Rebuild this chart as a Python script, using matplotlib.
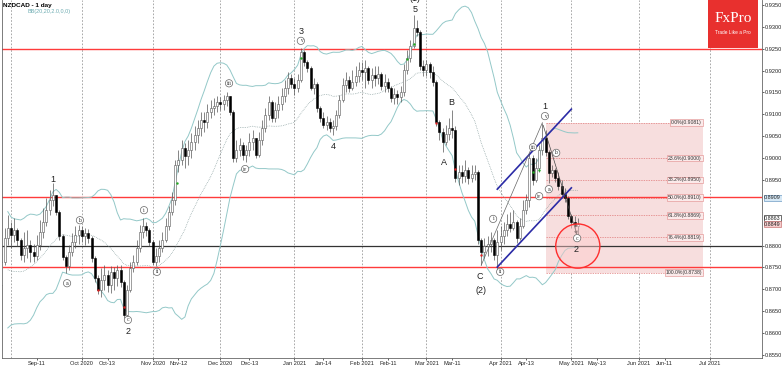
import matplotlib.pyplot as plt
import matplotlib.patches as mpatches
import numpy as np
import pandas as pd

plt.rcParams['font.family'] = ['Liberation Sans', 'DejaVu Sans']

# NZDCAD daily candles, Aug 27 2020 .. May 5 2021
first_day = '2020-08-27'
first_open = 0.8710
close = [
    0.8763, 0.8817, 0.8840, 0.8824, 0.8836, 0.8813, 0.8779, 0.8795, 0.8801, 0.8786,
    0.8776, 0.8801, 0.8831, 0.8854, 0.8881, 0.8904, 0.8916, 0.8877, 0.8822, 0.8774,
    0.8753, 0.8786, 0.8808, 0.8824, 0.8836, 0.8822, 0.8829, 0.8817, 0.8772, 0.8726,
    0.8698, 0.8721, 0.8733, 0.8710, 0.8740, 0.8726, 0.8744, 0.8717, 0.8641, 0.8698,
    0.8749, 0.8763, 0.8795, 0.8831, 0.8845, 0.8836, 0.8808, 0.8763, 0.8776, 0.8795,
    0.8813, 0.8845, 0.8877, 0.8904, 0.8984, 0.8996, 0.9023, 0.9005, 0.9019, 0.9037,
    0.9053, 0.9069, 0.9087, 0.9083, 0.9105, 0.9115, 0.9119, 0.9128, 0.9124, 0.9133,
    0.9142, 0.9105, 0.9000, 0.9019, 0.9030, 0.9007, 0.9019, 0.9037, 0.9046, 0.9007,
    0.9041, 0.9069, 0.9099, 0.9128, 0.9092, 0.9110, 0.9124, 0.9142, 0.9160, 0.9183,
    0.9169, 0.9160, 0.9179, 0.9243, 0.9220, 0.9206, 0.9160, 0.9169, 0.9115, 0.9092,
    0.9076, 0.9083, 0.9069, 0.9073, 0.9099, 0.9133, 0.9167, 0.9179, 0.9160, 0.9174,
    0.9188, 0.9201, 0.9197, 0.9206, 0.9179, 0.9190, 0.9183, 0.9192, 0.9165, 0.9174,
    0.9160, 0.9137, 0.9147, 0.9140, 0.9151, 0.9201, 0.9229, 0.9256, 0.9297, 0.9288,
    0.9210, 0.9201, 0.9215, 0.9197, 0.9174, 0.9083, 0.9060, 0.9037, 0.9055, 0.9069,
    0.9064, 0.8955, 0.8968, 0.8959, 0.8973, 0.8955, 0.8964, 0.8968, 0.8813, 0.8786,
    0.8799, 0.8804, 0.8813, 0.8779, 0.8808, 0.8822, 0.8836, 0.8849, 0.8840, 0.8854,
    0.8817, 0.8845, 0.8881, 0.8904, 0.9000, 0.8950, 0.8977, 0.9019, 0.9046, 0.9014,
    0.8966, 0.8973, 0.8955, 0.8936, 0.8918, 0.8909, 0.8868, 0.8854, 0.8845, 0.8849,
]
high = [
    0.8813, 0.8840, 0.8870, 0.8854, 0.8863, 0.8840, 0.8817, 0.8831, 0.8836, 0.8813,
    0.8804, 0.8824, 0.8858, 0.8886, 0.8909, 0.8927, 0.8943, 0.8916, 0.8881, 0.8827,
    0.8779, 0.8801, 0.8829, 0.8845, 0.8847, 0.8845, 0.8840, 0.8838, 0.8822, 0.8776,
    0.8733, 0.8749, 0.8756, 0.8744, 0.8753, 0.8751, 0.8756, 0.8756, 0.8721, 0.8710,
    0.8763, 0.8779, 0.8813, 0.8847, 0.8863, 0.8854, 0.8840, 0.8813, 0.8795, 0.8813,
    0.8831, 0.8863, 0.8891, 0.8923, 0.8996, 0.9019, 0.9041, 0.9035, 0.9041, 0.9057,
    0.9073, 0.9087, 0.9105, 0.9105, 0.9124, 0.9133, 0.9137, 0.9142, 0.9140, 0.9144,
    0.9151, 0.9142, 0.9110, 0.9041, 0.9046, 0.9037, 0.9030, 0.9057, 0.9064, 0.9046,
    0.9060, 0.9087, 0.9115, 0.9142, 0.9133, 0.9128, 0.9142, 0.9160, 0.9179, 0.9197,
    0.9192, 0.9183, 0.9192, 0.9252, 0.9247, 0.9224, 0.9210, 0.9183, 0.9174, 0.9119,
    0.9105, 0.9096, 0.9092, 0.9087, 0.9110, 0.9144, 0.9183, 0.9197, 0.9188, 0.9201,
    0.9210, 0.9220, 0.9220, 0.9224, 0.9210, 0.9206, 0.9210, 0.9210, 0.9197, 0.9192,
    0.9183, 0.9165, 0.9160, 0.9156, 0.9165, 0.9215, 0.9247, 0.9270, 0.9327, 0.9316,
    0.9293, 0.9224, 0.9224, 0.9220, 0.9210, 0.9179, 0.9087, 0.9069, 0.9076, 0.9092,
    0.9110, 0.9073, 0.8984, 0.8984, 0.8996, 0.8980, 0.8984, 0.8984, 0.8973, 0.8817,
    0.8817, 0.8822, 0.8831, 0.8817, 0.8836, 0.8845, 0.8854, 0.8872, 0.8877, 0.8881,
    0.8858, 0.8863, 0.8904, 0.8918, 0.9009, 0.9007, 0.9000, 0.9030, 0.9081, 0.9064,
    0.9019, 0.8984, 0.8977, 0.8968, 0.8950, 0.8932, 0.8913, 0.8872, 0.8868, 0.8863,
]
low = [
    0.8683, 0.8756, 0.8801, 0.8795, 0.8808, 0.8799, 0.8767, 0.8763, 0.8772, 0.8763,
    0.8763, 0.8767, 0.8790, 0.8817, 0.8845, 0.8870, 0.8891, 0.8870, 0.8813, 0.8767,
    0.8737, 0.8744, 0.8776, 0.8795, 0.8804, 0.8808, 0.8801, 0.8806, 0.8763, 0.8717,
    0.8689, 0.8683, 0.8698, 0.8694, 0.8692, 0.8698, 0.8708, 0.8705, 0.8635, 0.8625,
    0.8694, 0.8740, 0.8756, 0.8786, 0.8817, 0.8822, 0.8799, 0.8756, 0.8753, 0.8763,
    0.8786, 0.8808, 0.8836, 0.8870, 0.8893, 0.8968, 0.8984, 0.8977, 0.8984, 0.9000,
    0.9019, 0.9035, 0.9051, 0.9060, 0.9069, 0.9092, 0.9099, 0.9105, 0.9110, 0.9110,
    0.9119, 0.9099, 0.8991, 0.8991, 0.9005, 0.8996, 0.8991, 0.9005, 0.9019, 0.9000,
    0.9003, 0.9030, 0.9060, 0.9087, 0.9083, 0.9083, 0.9092, 0.9110, 0.9128, 0.9147,
    0.9160, 0.9144, 0.9151, 0.9174, 0.9210, 0.9197, 0.9156, 0.9147, 0.9105, 0.9083,
    0.9069, 0.9064, 0.9060, 0.9053, 0.9064, 0.9092, 0.9128, 0.9151, 0.9151, 0.9156,
    0.9165, 0.9174, 0.9179, 0.9160, 0.9169, 0.9160, 0.9165, 0.9169, 0.9156, 0.9151,
    0.9151, 0.9128, 0.9124, 0.9124, 0.9128, 0.9142, 0.9192, 0.9220, 0.9252, 0.9279,
    0.9201, 0.9188, 0.9188, 0.9183, 0.9165, 0.9073, 0.9041, 0.9014, 0.9030, 0.9041,
    0.9046, 0.8945, 0.8939, 0.8943, 0.8945, 0.8941, 0.8945, 0.8950, 0.8804, 0.8755,
    0.8772, 0.8776, 0.8786, 0.8767, 0.8744, 0.8790, 0.8804, 0.8822, 0.8831, 0.8836,
    0.8806, 0.8813, 0.8840, 0.8872, 0.8888, 0.8939, 0.8945, 0.8968, 0.9007, 0.9005,
    0.8943, 0.8957, 0.8945, 0.8927, 0.8909, 0.8900, 0.8861, 0.8840, 0.8831, 0.8820,
]
# August closes before the first visible candle, only to warm up the bands
warmup_close = [0.8880, 0.8855, 0.8820, 0.8790, 0.8760, 0.8720, 0.8690, 0.8665, 0.8650,
                0.8670, 0.8700, 0.8690, 0.8720, 0.8745, 0.8730, 0.8700, 0.8690]

red_levels = [0.9250, 0.8910, 0.8750]
black_level = 0.8800

fib_start, fib_end = '2021-04-21', '2021-06-29'
fib_top, fib_bottom = 0.9081, 0.8738
fib_ratios = [0.0, 23.6, 38.2, 50.0, 61.8, 76.4, 100.0]

channel_days = ['2021-03-31', '2021-05-03']
channel_upper = [0.8929, 0.9112]
channel_lower = [0.8751, 0.8932]

wave_days = ['2021-03-24', '2021-04-20', '2021-05-05']
wave_prices = [0.8755, 0.9081, 0.8819]

target_day, target_price = '2021-05-05', 0.8799

month_days = ['2020-10-01', '2020-11-02', '2020-12-01', '2021-01-01', '2021-02-01',
              '2021-03-01', '2021-04-01', '2021-05-03', '2021-06-01', '2021-07-01']
month_labels = ['Oct 2020', 'Nov 2020', 'Dec 2020', 'Jan 2021', 'Feb 2021',
                'Mar 2021', 'Apr 2021', 'May 2021', 'Jun 2021', 'Jul 2021']
mid_days = ['2020-09-11', '2020-10-13', '2020-11-12', '2020-12-14', '2021-01-14',
            '2021-02-11', '2021-03-11', '2021-04-13', '2021-05-13', '2021-06-11']
mid_labels = ['Sep-11', 'Oct-13', 'Nov-12', 'Dec-13', 'Jan-14',
              'Feb-11', 'Mar-11', 'Apr-13', 'May-13', 'Jun-11']
y_ticks = [0.9350, 0.9300, 0.9250, 0.9200, 0.9150, 0.9100, 0.9050, 0.9000, 0.8950,
           0.8800, 0.8750, 0.8700, 0.8650, 0.8600, 0.8550]
price_boxes = [0.8909, 0.8863, 0.8849]

# wave labels: (bar position, price, text, circled)
wave_labels = [
    (16, 0.8950, '1', False), (20.4, 0.8714, 'a', True), (24.4, 0.8858, 'b', True),
    (39.3, 0.8630, 'c', True), (39.3, 0.8604, '2', False),
    (44.3, 0.8881, 'i', True), (48.3, 0.8740, 'ii', True), (70.7, 0.9171, 'iii', True),
    (75.7, 0.8975, 'iv', True), (93, 0.9268, 'v', True), (93, 0.9290, '3', False),
    (103, 0.9027, '4', False), (128.5, 0.9340, '5', False), (128.5, 0.9364, '(1)', False),
    (137.5, 0.8989, 'A', False), (139.6, 0.9126, 'B', False),
    (148.7, 0.8730, 'C', False), (149, 0.8697, '(2)', False),
    (152.7, 0.8861, 'i', True), (154.9, 0.8740, 'ii', True), (165.1, 0.9025, 'iii', True),
    (167, 0.8913, 'iv', True), (168.8, 0.9096, 'v', True), (168.8, 0.9118, '1', False),
    (170, 0.8929, 'a', True), (172.3, 0.9012, 'b', True),
    (178.8, 0.8817, 'c', True), (178.6, 0.8791, '2', False),
]
green_marks = [(54.6, 0.8943), (93, 0.9229), (126, 0.9227), (128, 0.9261), (165, 0.8968), (167, 0.8973)]
red_marks = [(30, 0.8698), (38, 0.8660), (135, 0.9081), (141, 0.8975), (149, 0.8779)]

all_days = pd.bdate_range(first_day, '2021-07-30')


def pos(day):
    return all_days.searchsorted(pd.Timestamp(day))


n = len(close)
t = np.arange(n)
c = np.array(close)
o = np.array([first_open] + close[:-1])
hi = np.array(high)
lo = np.array(low)

s = pd.Series(warmup_close + close)
mid = s.rolling(20).mean().values[len(warmup_close):]
sd = s.rolling(20).std(ddof=0).values[len(warmup_close):]

fig = plt.figure(figsize=(7.82, 3.66), dpi=100)
ax = fig.add_axes([2 / 782, 8 / 366, 760 / 782, 358 / 366])
ax.set_xlim(0.2, 236.2)
ax.set_ylim(0.85431, 0.93614)

# month grid
for d in ['2020-09-01'] + month_days:
    ax.axvline(pos(d), color='#9a9a9a', lw=0.6, ls=(0, (2, 2)), zorder=0)

# fibonacci box
fx0, fx1 = pos(fib_start), pos(fib_end)
ax.add_patch(mpatches.Rectangle((fx0, fib_bottom), fx1 - fx0, fib_top - fib_bottom,
                                facecolor='#f7dede', edgecolor='none', zorder=0.5))
for r in fib_ratios:
    lvl = fib_top - (fib_top - fib_bottom) * r / 100
    ax.plot([fx0, fx1], [lvl, lvl], color='#e07a7a', lw=0.5, ls=(0, (2, 1.5)), zorder=0.6)
    ax.text(fx1 - 0.5, lvl, '%.1f%%(%.4f)' % (r, lvl), fontsize=3.7, ha='right', va='center',
            color='#333333', zorder=5,
            bbox=dict(boxstyle='square,pad=0.15', fc='#fbeaea', ec='#e08a8a', lw=0.4))

for lvl in red_levels:
    ax.axhline(lvl, color='#ff3b3b', lw=1.0, zorder=1)
ax.axhline(black_level, color='#333333', lw=0.9, zorder=1)

# bollinger bands
ax.plot(t, mid + 2 * sd, color='#93c8c8', lw=0.7, zorder=1.5)
ax.plot(t, mid - 2 * sd, color='#93c8c8', lw=0.7, zorder=1.5)
ax.plot(t, mid, color='#7b9494', lw=0.5, ls=(0, (1, 1.5)), zorder=1.5)

# candles
up = c >= o
ax.vlines(t, lo, hi, color='#555555', lw=0.5, zorder=2)
body = np.maximum(np.abs(c - o), 0.00006)
ax.bar(t[up], body[up], bottom=np.minimum(o, c)[up], width=0.62,
       color='white', edgecolor='#555555', lw=0.4, zorder=3)
ax.bar(t[~up], body[~up], bottom=np.minimum(o, c)[~up], width=0.62,
       color='black', edgecolor='black', lw=0.4, zorder=3)

gx, gy = zip(*green_marks)
ax.scatter(gx, gy, s=3, color='#22aa22', zorder=4, linewidths=0)
rx, ry = zip(*red_marks)
ax.scatter(rx, ry, s=3, color='#dd2222', zorder=4, linewidths=0)

# channel and wave path
cx = [pos(d) for d in channel_days]
ax.plot(cx, channel_upper, color='#2b2ba6', lw=1.2, zorder=4)
ax.plot(cx, channel_lower, color='#2b2ba6', lw=1.2, zorder=4)
wx = [pos(d) for d in wave_days]
ax.plot(wx[:2], wave_prices[:2], color='#666666', lw=0.5, zorder=4)
ax.annotate('', xy=(wx[2], wave_prices[2]), xytext=(wx[1], wave_prices[1]),
            arrowprops=dict(arrowstyle='-|>', color='#444444', lw=0.5, mutation_scale=5), zorder=4)

ax.add_patch(mpatches.Ellipse((pos(target_day), target_price), 13.7, 0.0101,
                              facecolor='#ffcccc', alpha=0.45, edgecolor='none', zorder=4))
ax.add_patch(mpatches.Ellipse((pos(target_day), target_price), 13.7, 0.0101,
                              facecolor='none', edgecolor='#ff2e2e', lw=1.0, zorder=4))

for x, y, txt, circ in wave_labels:
    if circ:
        ax.text(x, y, txt, fontsize=3.3, ha='center', va='center', color='#333333',
                family='DejaVu Serif', zorder=6,
                bbox=dict(boxstyle='circle,pad=0.25', fc='white', ec='#666666', lw=0.5))
    else:
        ax.text(x, y, txt, fontsize=6.5, ha='center', va='center', color='#222222',
                zorder=6, clip_on=False)

# axes styling
ax.yaxis.tick_right()
ax.set_yticks(y_ticks)
ax.set_yticklabels(['%.4f' % v for v in y_ticks])
ax.set_xticks([pos(d) for d in mid_days + month_days])
ax.set_xticklabels(mid_labels + month_labels)
ax.tick_params(axis='both', labelsize=4.1, colors='#222222', length=1.5, width=0.5, pad=0.8)
for sp in ax.spines.values():
    sp.set_color('#666666')
    sp.set_linewidth(0.6)
ax.spines['top'].set_visible(False)

# price boxes on the right scale
for val, fc, ec in zip(price_boxes, ['#d6e8f5', 'white', '#f4cccc'],
                       ['#6f9cc4', '#333333', '#cc7777']):
    ax.annotate('%.4f' % val, xy=(1.0, val), xycoords=('axes fraction', 'data'),
                xytext=(1.6, 0), textcoords='offset points', fontsize=3.9, va='center',
                color='#222222', annotation_clip=False,
                bbox=dict(boxstyle='square,pad=0.1', fc=fc, ec=ec, lw=0.5))

fig.text(3 / 782, 1 - 5 / 366, 'NZDCAD - 1 day', fontsize=4.6, fontweight='bold', va='center')
fig.text(28 / 782, 1 - 12 / 366, 'BB(20,20,2.0,0,0)', fontsize=3.9, color='#6aaab0', va='center')

# logo
fig.patches.append(mpatches.Rectangle((708 / 782, 1 - 48 / 366), 50 / 782, 48 / 366,
                                      transform=fig.transFigure, facecolor='#e8302e',
                                      edgecolor='none', zorder=10))
fig.text(733 / 782, 1 - 18 / 366, 'FxPro', fontsize=11, color='white', ha='center',
         va='center', family='Liberation Serif', zorder=11)
fig.text(733 / 782, 1 - 33 / 366, 'Trade Like a Pro', fontsize=3.4, color='white',
         ha='center', va='center', zorder=11)

fig.savefig('out.png', dpi=100)
